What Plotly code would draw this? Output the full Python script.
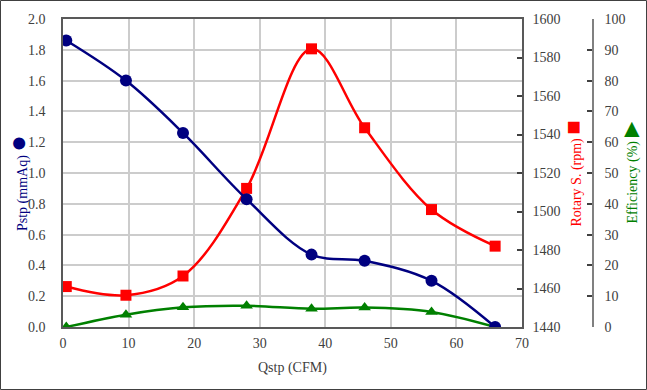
import plotly.graph_objects as go

# ---- data ----
qstp = [0.5, 9.6, 18.3, 28.0, 37.9, 46.0, 56.2, 65.9]
pstp = [1.86, 1.60, 1.26, 0.83, 0.47, 0.43, 0.30, 0.0]
rotary = [1461, 1456.5, 1466.5, 1512, 1584.5, 1543.5, 1501, 1482]
efficiency = [0.0, 4.0, 6.4, 6.9, 5.9, 6.3, 4.9, 0.0]

x_ticks = [0, 10, 20, 30, 40, 50, 60, 70]

W, H = 647, 390
ML, MR, MT, MB = 63, 40, 19, 63
PW = W - ML - MR
PH = H - MT - MB
plot_right = 522


def px(xp):
    return (xp - ML) / PW


def py(yp):
    return (MT + PH - yp) / PH


FONT = "Liberation Serif"
TICKC = "#404040"
NAVY = "#000080"
RED = "#FF0000"
GREEN = "#008000"
GRID = "#CCCCCC"

fig = go.Figure()

# green: efficiency on main y
fig.add_trace(go.Scatter(
    x=qstp, y=efficiency, yaxis="y", mode="lines+markers",
    line=dict(color=GREEN, width=2.5, shape="spline"),
    marker=dict(symbol="triangle-up", size=11, color=GREEN),
    name="Efficiency", showlegend=False))
# red: rotary speed
fig.add_trace(go.Scatter(
    x=qstp, y=rotary, yaxis="y2", mode="lines+markers",
    line=dict(color=RED, width=2.5, shape="spline"),
    marker=dict(symbol="square", size=11, color=RED),
    name="Rotary S.", showlegend=False))
# navy: static pressure
fig.add_trace(go.Scatter(
    x=qstp, y=pstp, yaxis="y3", mode="lines+markers",
    line=dict(color=NAVY, width=2.5, shape="spline"),
    marker=dict(symbol="circle", size=12, color=NAVY),
    name="Pstp", showlegend=False))

tickfont = dict(family=FONT, size=14, color=TICKC)

fig.update_layout(
    width=W, height=H,
    margin=dict(l=ML, r=MR, t=MT, b=MB, pad=0, autoexpand=False),
    paper_bgcolor="white", plot_bgcolor="white",
    font=dict(family=FONT, size=14, color=TICKC),
    showlegend=False,
    xaxis=dict(
        domain=[0, px(plot_right)], range=[0, 70], tickvals=x_ticks,
        showgrid=True, gridcolor=GRID, gridwidth=1.5,
        showline=True, linecolor="#595959", linewidth=1.5, mirror=True,
        ticks="", tickfont=tickfont, ticklabelstandoff=2,
        zeroline=False, anchor="y3", automargin=False),
    yaxis=dict(
        range=[0, 100], dtick=10, side="right", anchor="free",
        position=px(593), showgrid=True, gridcolor=GRID, gridwidth=1.5,
        showline=True, linecolor="#808080", linewidth=1.5,
        ticks="inside", ticklen=5, tickcolor="#404040", tickwidth=1.5,
        tickfont=tickfont, ticklabelstandoff=8, zeroline=False,
        automargin=False),
    yaxis2=dict(
        range=[1440, 1600], dtick=20, side="right", overlaying="y",
        anchor="x", showgrid=False,
        showline=True, linecolor="#595959", linewidth=1.5,
        ticks="inside", ticklen=5, tickcolor="#404040", tickwidth=1.5,
        tickfont=tickfont, ticklabelstandoff=6, zeroline=False,
        automargin=False),
    yaxis3=dict(
        range=[0, 2], dtick=0.2, tickformat=".1f", side="left",
        overlaying="y", anchor="x", showgrid=False,
        showline=True, linecolor="#595959", linewidth=1.5,
        ticks="", tickfont=tickfont, ticklabelstandoff=13, zeroline=False,
        automargin=False),
)

annotations = [
    dict(text="Qstp (CFM)", x=px(292.5), y=py(368), xref="paper", yref="paper",
         showarrow=False, font=dict(family=FONT, size=14, color=TICKC),
         xanchor="center", yanchor="middle"),
    dict(text="Pstp (mmAq) <span style='font-size:28px'>●</span>",
         x=px(17), y=py(183), xref="paper", yref="paper", textangle=-90,
         showarrow=False, font=dict(family=FONT, size=14, color=NAVY),
         xanchor="center", yanchor="middle"),
    dict(text="Rotary S. (rpm) <span style='font-size:24px'>■</span>",
         x=px(572), y=py(173.5), xref="paper", yref="paper", textangle=-90,
         showarrow=False, font=dict(family=FONT, size=14, color=RED),
         xanchor="center", yanchor="middle"),
    dict(text="Efficiency (%) <span style='font-size:20px'>▶</span>",
         x=px(629), y=py(172.5), xref="paper", yref="paper", textangle=-90,
         showarrow=False, font=dict(family=FONT, size=14, color=GREEN),
         xanchor="center", yanchor="middle"),
]
fig.update_layout(annotations=annotations)

fig.add_shape(type="rect", xref="paper", yref="paper",
              x0=px(0.5), x1=px(646.5), y0=py(389.5), y1=py(0.5),
              line=dict(color="#404040", width=1), fillcolor="rgba(0,0,0,0)",
              layer="below")

fig.write_html(
    "out.html",
    config={"displayModeBar": False},
    post_script="document.body.style.margin='0';document.body.style.overflow='hidden';",
)
